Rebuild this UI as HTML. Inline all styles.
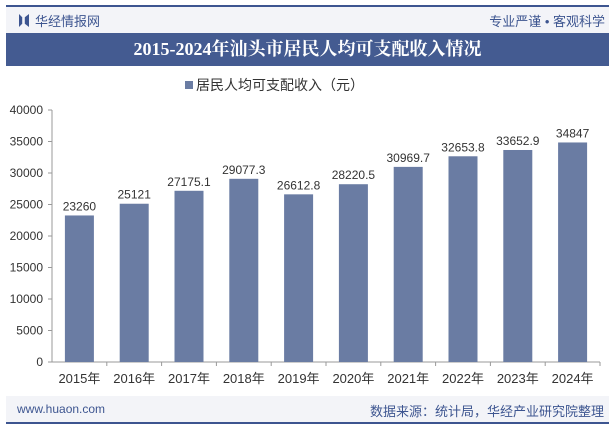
<!DOCTYPE html>
<html><head><meta charset="utf-8"><style>
body{margin:0;width:615px;height:427px;background:#fff;font-family:"Liberation Sans","Noto Sans CJK SC",sans-serif;overflow:hidden;position:relative}
.abs{position:absolute}
</style></head><body>
<div class="abs" style="left:6px;top:5px;width:603px;height:2px;background:#3d5590"></div>
<div class="abs" style="left:6px;top:7px;width:603px;height:26px;background:#f3f4f8"></div>
<div class="abs" style="left:19px;top:14px;width:8px;height:13px;background:#3d5590;clip-path:polygon(0 0,40% 25%,40% 75%,0 100%,0 0);"></div>
<div class="abs" style="left:23px;top:14px;width:6px;height:13px;background:#3d5590;clip-path:polygon(100% 0,30% 25%,30% 75%,100% 100%)"></div>
<div class="abs" style="left:35px;top:11px;font-size:13px;color:#3d5590">华经情报网</div>
<div class="abs" style="right:10px;top:11px;font-size:13px;color:#3d5590">专业严谨 • 客观科学</div>
<div class="abs" style="left:6px;top:33px;width:603px;height:33px;background:#445b91;color:#fff;font-family:'Liberation Serif','Noto Serif CJK SC',serif;font-weight:bold;font-size:18px;line-height:33px;text-align:center">2015-2024年汕头市居民人均可支配收入情况</div>
<div class="abs" style="left:185px;top:75px;font-size:14px;color:#333"><span style="display:inline-block;width:8px;height:8px;background:#6a7ca3;margin-right:3px;vertical-align:1px"></span>居民人均可支配收入（元）</div>
<svg class="abs" style="left:0;top:0" width="615" height="427" id="chart"></svg>
<div class="abs" style="left:6px;top:396px;width:603px;height:26px;background:#f3f4f8"></div>
<div class="abs" style="left:17px;top:402px;font-size:12px;color:#3d5590">www.huaon.com</div>
<div class="abs" style="right:11px;top:401px;font-size:13px;color:#3d5590">数据来源：统计局，华经产业研究院整理</div>
<div class="abs" style="left:6px;top:422px;width:603px;height:2px;background:#3d5590"></div>
<script>
const categories=["2015年","2016年","2017年","2018年","2019年","2020年","2021年","2022年","2023年","2024年"];
const values=[23260,25121,27175.1,29077.3,26612.8,28220.5,30969.7,32653.8,33652.9,34847];
const labels=["23260","25121","27175.1","29077.3","26612.8","28220.5","30969.7","32653.8","33652.9","34847"];
const ticks=[0,5000,10000,15000,20000,25000,30000,35000,40000];
const svg=document.getElementById('chart');const NS='http://www.w3.org/2000/svg';
const x0=52,x1=600,y0=362,y1=110,ymax=40000;
const step=(x1-x0)/categories.length,bw=29;
const yS=v=>y0-(v/ymax)*(y0-y1);const xC=i=>x0+step*(i+0.5);
function mk(t,a,txt){const e=document.createElementNS(NS,t);for(const k in a)e.setAttribute(k,a[k]);if(txt!=null)e.textContent=txt;svg.appendChild(e);return e;}
ticks.forEach(t=>{const e=mk('text',{x:43,y:yS(t)+4,'text-anchor':'end','font-size':12,fill:'#333','font-family':'Liberation Sans'},t);


const l=mk('line',{x1:x0-4,x2:x0,y1:yS(t),y2:yS(t),stroke:'#999'});

});
const ya=mk('line',{x1:x0,x2:x0,y1:y1,y2:y0,stroke:'#999'});


const xa=mk('line',{x1:x0,x2:x1,y1:y0,y2:y0,stroke:'#999'});


categories.forEach((c,i)=>{const b=mk('rect',{x:xC(i)-bw/2,y:yS(values[i]),width:bw,height:y0-yS(values[i]),fill:'#6a7ca3'});


const v=mk('text',{x:xC(i),y:yS(values[i])-5,'text-anchor':'middle','font-size':12,fill:'#333','font-family':'Liberation Sans'},labels[i]);


const t=mk('text',{x:xC(i),y:y0+21,'text-anchor':'middle','font-size':13,fill:'#333','font-family':'Liberation Sans, Noto Sans CJK SC, sans-serif'},c);


const tk=mk('line',{x1:x0+step*(i+1),x2:x0+step*(i+1),y1:y0,y2:y0+4,stroke:'#999'});

});
</script>
</body></html>
